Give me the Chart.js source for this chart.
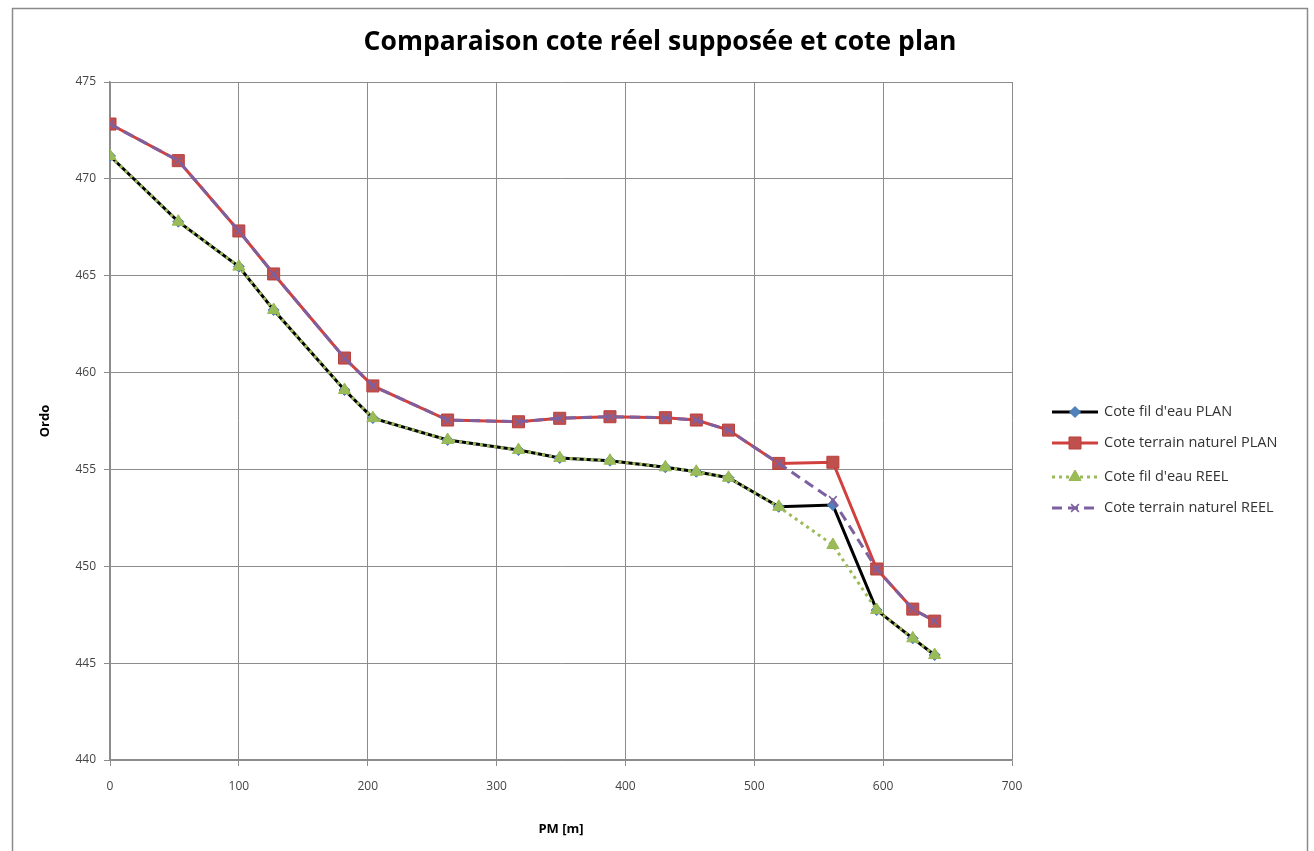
<!DOCTYPE html>
<html>
<head>
<meta charset="utf-8">
<script src="https://cdn.jsdelivr.net/npm/chart.js@4/dist/chart.umd.min.js"></script>
<style>
  html, body { margin: 0; padding: 0; background: #ffffff; }
  #wrap { width: 1314px; height: 851px; position: relative; }
</style>
</head>
<body>
<div id="wrap"><canvas id="c" width="1314" height="851"></canvas></div>
<script>
// Profil en long : points kilométriques (m) et cotes (m)
const pm = [0, 53, 100, 127, 182, 204, 262, 317, 349, 388, 431, 455, 480, 519, 561, 595, 623, 640];
const filEauPlan = [471.18, 467.79, 465.47, 463.23, 459.10, 457.65, 456.52, 456.00, 455.59, 455.45, 455.11, 454.88, 454.57, 453.07, 453.16, 447.74, 446.28, 445.42];
const terrainPlan = [472.83, 470.94, 467.31, 465.09, 460.75, 459.31, 457.55, 457.46, 457.64, 457.72, 457.67, 457.55, 457.03, 455.31, 455.37, 449.86, 447.79, 447.17];
const filEauReel = [471.18, 467.79, 465.47, 463.23, 459.10, 457.65, 456.52, 456.00, 455.59, 455.45, 455.11, 454.88, 454.57, 453.07, 451.10, 447.74, 446.28, 445.42];
const terrainReel = [472.83, 470.94, 467.31, 465.09, 460.75, 459.31, 457.55, 457.46, 457.64, 457.72, 457.67, 457.55, 457.03, 455.31, 453.42, 449.86, 447.79, 447.17];

const seriesNames = ["Cote fil d'eau PLAN", "Cote terrain naturel PLAN", "Cote fil d'eau REEL", "Cote terrain naturel REEL"];
const chartTitle = "Comparaison cote réel supposée et cote plan";
const xTitle = "PM [m]";
const yTitle = "Ordo";

const toXY = vals => vals.map((v, i) => ({ x: pm[i], y: v }));

const datasets = [
  {
    label: seriesNames[0], data: toXY(filEauPlan), order: 4,
    borderColor: '#000000', borderWidth: 3,
    pointStyle: 'rectRot', pointRadius: 5.5,
    pointBackgroundColor: '#4f81bd', pointBorderColor: '#4a7ebb', pointBorderWidth: 1
  },
  {
    label: seriesNames[1], data: toXY(terrainPlan), order: 3,
    borderColor: '#d0413e', borderWidth: 3,
    pointStyle: 'rect', pointRadius: 8.5,
    pointBackgroundColor: '#c0504d', pointBorderColor: '#b8403d', pointBorderWidth: 1
  },
  {
    label: seriesNames[2], data: toXY(filEauReel), order: 2,
    borderColor: '#9bbb59', borderWidth: 3, borderDash: [3, 4], borderCapStyle: 'butt',
    pointStyle: 'triangle', pointRadius: 7,
    pointBackgroundColor: '#9bbb59', pointBorderColor: '#98b954', pointBorderWidth: 1
  },
  {
    label: seriesNames[3], data: toXY(terrainReel), order: 1,
    borderColor: '#7d60a0', borderWidth: 3, borderDash: [10, 6],
    pointStyle: 'crossRot', pointRadius: 5.5,
    pointBackgroundColor: '#7d60a0', pointBorderColor: '#7d60a0', pointBorderWidth: 1.5
  }
];

// Cadre, titre et légende dessinés autour de la zone de tracé
const decor = {
  id: 'decor',
  beforeDraw(chart) {
    const ctx = chart.ctx;
    ctx.save();
    ctx.fillStyle = '#ffffff';
    ctx.fillRect(0, 0, chart.width, chart.height);
    ctx.strokeStyle = '#8a8a8a';
    ctx.lineWidth = 1.5;
    ctx.strokeRect(12.5, 8.5, 1295, 860);
    ctx.restore();
  },
  afterDraw(chart) {
    const ctx = chart.ctx;
    ctx.save();
    // titre
    ctx.fillStyle = '#000000';
    ctx.font = 'bold 26.5px "Open Sans", "Liberation Sans", sans-serif';
    ctx.textAlign = 'center';
    ctx.textBaseline = 'middle';
    ctx.fillText(chartTitle, 660, 42);

    // légende
    const rows = [412, 443, 477, 508];
    const x0 = 1052, x1 = 1098;
    chart.data.datasets.forEach((ds, i) => {
      const y = rows[i];
      ctx.save();
      ctx.strokeStyle = ds.borderColor;
      ctx.lineWidth = ds.borderWidth;
      ctx.lineCap = ds.borderCapStyle || 'butt';
      ctx.setLineDash(ds.borderDash || []);
      ctx.beginPath();
      ctx.moveTo(x0, y);
      ctx.lineTo(x1, y);
      ctx.stroke();
      ctx.restore();
      ctx.save();
      ctx.fillStyle = ds.pointBackgroundColor;
      ctx.strokeStyle = ds.pointBorderColor;
      ctx.lineWidth = ds.pointBorderWidth;
      Chart.helpers.drawPoint(ctx, {
        pointStyle: ds.pointStyle, radius: ds.pointRadius, rotation: 0,
        borderWidth: ds.pointBorderWidth
      }, (x0 + x1) / 2, y);
      ctx.restore();
      ctx.fillStyle = '#333333';
      ctx.font = '14.5px "Open Sans", "Liberation Sans", sans-serif';
      ctx.textAlign = 'left';
      ctx.textBaseline = 'middle';
      ctx.fillText(ds.label, 1104, y);
    });
    ctx.restore();
  }
};

const gridColor = '#8c8c8c';
const tickFont = { family: '"Open Sans", "Liberation Sans", sans-serif', size: 12 };
const axisTitleFont = { family: '"Open Sans", "Liberation Sans", sans-serif', size: 13, weight: 'bold' };

new Chart(document.getElementById('c'), {
  type: 'line',
  data: { datasets },
  options: {
    responsive: false,
    animation: false,
    layout: { padding: { top: 82, left: 33, right: 302, bottom: 10 } },
    plugins: { legend: { display: false }, title: { display: false }, tooltip: { enabled: false } },
    elements: { line: { tension: 0, fill: false } },
    scales: {
      x: {
        type: 'linear', min: 0, max: 700,
        ticks: { stepSize: 100, color: '#444444', font: tickFont, padding: 13 },
        grid: { color: gridColor, lineWidth: 1, tickLength: 6, drawTicks: true },
        border: { color: gridColor, width: 1.5 },
        title: { display: true, text: xTitle, color: '#000000', font: axisTitleFont, padding: 4 },
        afterFit(s) { s.height = 81; }
      },
      y: {
        type: 'linear', min: 440, max: 475,
        ticks: { stepSize: 5, color: '#444444', font: tickFont, padding: 8 },
        grid: { color: gridColor, lineWidth: 1, tickLength: 6, drawTicks: true },
        border: { color: gridColor, width: 1.5 },
        title: { display: true, text: yTitle, color: '#000000', font: axisTitleFont, padding: 4 },
        afterFit(s) { s.width = 77; }
      }
    }
  },
  plugins: [decor]
});
</script>
</body>
</html>
